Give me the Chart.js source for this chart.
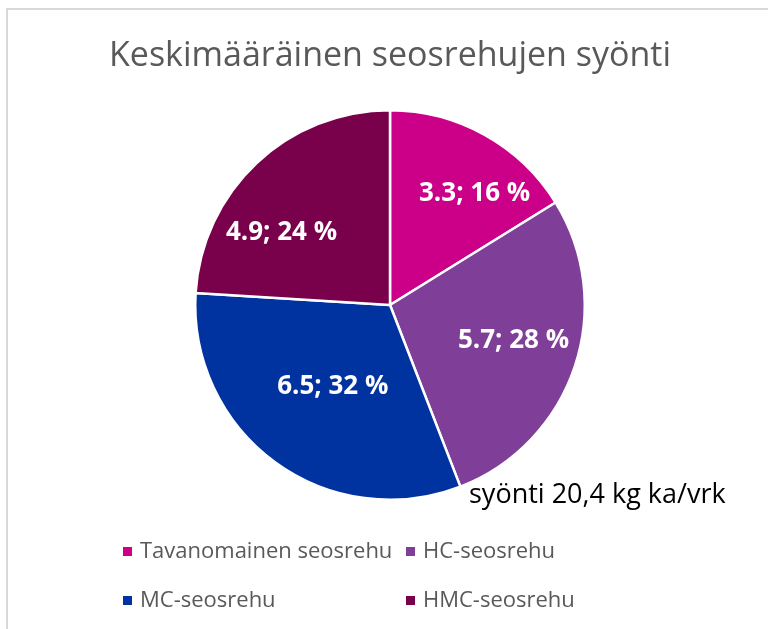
<!DOCTYPE html>
<html>
<head>
<meta charset="utf-8">
<script src="https://cdn.jsdelivr.net/npm/chart.js@4.4.1/dist/chart.umd.min.js"></script>
<style>
  html, body { margin: 0; padding: 0; background: #fff; }
  #frame { position: absolute; left: 6px; top: 8px; right: 0; bottom: 0;
           border-left: 2px solid #d9d9d9; border-top: 2px solid #d9d9d9; }
  #wrap { position: absolute; left: 0; top: 0; width: 768px; height: 629px; }
</style>
</head>
<body>
<div id="frame"></div>
<div id="wrap"><canvas id="mycanvas" width="768" height="629"></canvas></div>
<script>
// ** Keskimääräinen seosrehujen syönti - pie

var title = 'Keskimääräinen seosrehujen syönti';
var note = 'syönti 20,4 kg ka/vrk';
var labels = ['Tavanomainen seosrehu', 'HC-seosrehu', 'MC-seosrehu', 'HMC-seosrehu'];
var values = [3.3, 5.7, 6.5, 4.9];
var percents = [16, 28, 32, 24];
var colors = ['#cc0088', '#7f3f98', '#0033a0', '#79004a'];

var fontFam = "'Open Sans', 'Noto Sans', sans-serif";

// label placement tweaks (angle shift in degrees, fraction of radius)
var labelShift = [8, -2.5, -1, -13];
var labelRadius = [0.72, 0.66, 0.51, 0.67];

// draws title, slice labels, note and two-column legend
var decor = {
	id: 'decor',
	afterDraw: function(chart) {
		var ctx = chart.ctx;
		ctx.save();

		// title
		ctx.fillStyle = '#595959';
		ctx.font = '34px ' + fontFam;
		ctx.textAlign = 'center';
		ctx.textBaseline = 'middle';
		ctx.fillText(title, 390, 56);

		// slice labels
		var arcs = chart.getDatasetMeta(0).data;
		ctx.fillStyle = '#ffffff';
		ctx.font = 'bold 26px ' + fontFam;
		for (var i = 0; i < arcs.length; i++) {
			var a = arcs[i];
			var mid = (a.startAngle + a.endAngle) / 2 + labelShift[i] * Math.PI / 180;
			var r = a.outerRadius * labelRadius[i];
			var x = a.x + Math.cos(mid) * r;
			var y = a.y + Math.sin(mid) * r;
			ctx.fillText(values[i].toFixed(1) + '; ' + percents[i] + ' %', x, y);
		}

		// note under the pie
		ctx.fillStyle = '#000000';
		ctx.font = '27px ' + fontFam;
		ctx.textAlign = 'left';
		ctx.fillText(note, 469, 495);

		// legend
		ctx.font = '22px ' + fontFam;
		var cols = [123, 406];
		var rows = [552, 601];
		for (var j = 0; j < labels.length; j++) {
			var lx = cols[j % 2];
			var ly = rows[Math.floor(j / 2)];
			ctx.fillStyle = colors[j];
			ctx.fillRect(lx, ly - 5, 9, 9);
			ctx.fillStyle = '#595959';
			ctx.fillText(labels[j], lx + 17, ly);
		}
		ctx.restore();
	}
};

var ctx = document.getElementById('mycanvas');

var pieChart = new Chart(ctx, {
	type: 'pie',
	data: {
		labels: labels,
		datasets: [{
			data: values,
			backgroundColor: colors,
			borderColor: '#ffffff',
			borderWidth: 2.5
		}]
	},
	options: {
		responsive: false,
		animation: false,
		layout: {
			padding: { left: 194, right: 182, top: 109, bottom: 128 }
		},
		plugins: {
			legend: { display: false },
			title: { display: false },
			tooltip: { enabled: false }
		}
	},
	plugins: [decor]
});
</script>
</body>
</html>
